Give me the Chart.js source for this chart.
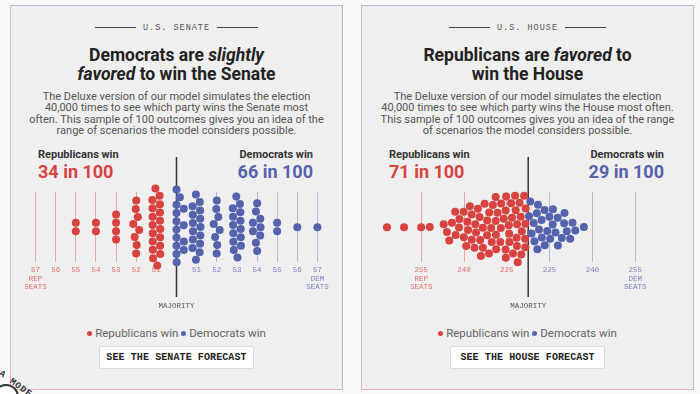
<!DOCTYPE html>
<html>
<head>
<meta charset="utf-8">
<script src="https://cdn.jsdelivr.net/npm/chart.js@4.4.1/dist/chart.umd.min.js"></script>
<style>
  body { margin: 0; width: 700px; height: 394px; background: #f9f9f9; position: relative; overflow: hidden; font-family: Roboto, sans-serif; }
  .panel { position: absolute; top: 5px; width: 331px; height: 383px; background: #efefef;
    border: 1px solid #b9b5d6; border-left-color: #e8b4b8; border-bottom-color: #e8b4b8; }
  .kicker { position: absolute; top: 17px; left: 0; right: 0; text-align: center; font: 8.5px "Liberation Mono", monospace; letter-spacing: 1px; color: #555; }
  .kicker span { display: inline-block; width: 41px; height: 1px; background: #444; vertical-align: middle; margin: 0 7px; }
  .title { position: absolute; top: 40px; left: 0; right: 0; text-align: center; font-weight: 700; font-size: 17.5px; line-height: 19px; color: #222; }
  .desc { position: absolute; top: 85px; left: 0; right: 0; text-align: center; font-size: 11px; line-height: 11.3px; color: #555; }
  .side { position: absolute; top: 143px; font-weight: 700; }
  .side .who { font-size: 11px; color: #333; line-height: 12px; }
  .side .num { font-size: 18px; line-height: 22px; }
  .left { left: 27px; text-align: left; }
  .right { right: 29px; text-align: right; }
  .legend { position: absolute; top: 320px; left: 0; right: 0; text-align: center; font-size: 11.5px; color: #666; }
  .legend i { display: inline-block; width: 5px; height: 5px; border-radius: 50%; margin: 0 3px 1px 0; vertical-align: middle; }
  .btn { position: absolute; top: 340px; left: 88px; width: 153px; height: 21px; background: #fff; border: 1px solid #ddd;
    text-align: center; font: bold 10px/21px "Liberation Mono", monospace; letter-spacing: 0.1px; color: #222; }
  canvas { position: absolute; top: 150px; }
  .logo { position: absolute; left: -7px; top: 384px; width: 22px; height: 22px; border-radius: 50%; border: 2px solid #333; background: #fff; }
  .logotext { position: absolute; left: 0px; top: 368px; font: bold 9px "Liberation Mono", monospace; letter-spacing: 1px; color: #333; transform: rotate(36deg); transform-origin: left center; }
</style>
</head>
<body>
<div class="panel" style="left:10px">
  <div class="kicker"><span></span>U.S. SENATE<span></span></div>
  <div class="title">Democrats are <i>slightly</i><br><i>favored</i> to win the Senate</div>
  <div class="desc">The Deluxe version of our model simulates the election<br>40,000 times to see which party wins the Senate most<br>often. This sample of 100 outcomes gives you an idea of the<br>range of scenarios the model considers possible.</div>
  <div class="side left"><div class="who">Republicans win</div><div class="num" style="color:#d8433f">34 in 100</div></div>
  <div class="side right"><div class="who">Democrats win</div><div class="num" style="color:#5563ad">66 in 100</div></div>
  <div class="legend"><i style="background:#d8433f"></i>Republicans win <i style="background:#5563ad"></i>Democrats win</div>
  <div class="btn">SEE THE SENATE FORECAST</div>
</div>
<div class="panel" style="left:361px">
  <div class="kicker"><span></span>U.S. HOUSE<span></span></div>
  <div class="title">Republicans are <i>favored</i> to<br>win the House</div>
  <div class="desc">The Deluxe version of our model simulates the election<br>40,000 times to see which party wins the House most often.<br>This sample of 100 outcomes gives you an idea of the range<br>of scenarios the model considers possible.</div>
  <div class="side left"><div class="who">Republicans win</div><div class="num" style="color:#d8433f">71 in 100</div></div>
  <div class="side right"><div class="who">Democrats win</div><div class="num" style="color:#5563ad">29 in 100</div></div>
  <div class="legend"><i style="background:#d8433f"></i>Republicans win <i style="background:#5563ad"></i>Democrats win</div>
  <div class="btn">SEE THE HOUSE FORECAST</div>
</div>
<div class="logo"></div>
<div class="logotext">A MODE</div>

<canvas id="senate" width="325" height="165" style="left:14px"></canvas>
<canvas id="house" width="325" height="165" style="left:365px"></canvas>

<script>
// Senate: seats won by the winning party in each of the 100 sampled outcomes
const senateRepSeats = [55, 55, 54, 54, 53, 53, 53, 53,
  52, 52, 52, 52, 52, 52, 52, 52,
  51, 51, 51, 51, 51, 51, 51, 51, 51, 51, 51, 51, 51, 51, 51, 51, 51, 51];
const senateDemSeats = [50, 50, 50, 50, 50, 50, 50, 50, 50, 50, 50, 50, 50, 50, 50, 50,
  51, 51, 51, 51, 51, 51, 51, 51, 51, 51, 51, 51, 51, 51, 51,
  52, 52, 52, 52, 52, 52, 52, 52,
  53, 53, 53, 53, 53, 53, 53, 53, 53, 53, 53, 53, 53, 53,
  54, 54, 54, 54, 54, 54, 54, 54, 54,
  55, 55, 56, 57];
// axis positions are in Democratic seats (Rep seats = 100 - x)
const senateTicks = [43, 44, 45, 46, 47, 48, 49, 51, 52, 53, 54, 55, 56, 57];
const senateTickLabels = [['57', 'REP', 'SEATS'], '56', '55', '54', '53', '52', '51',
  '51', '52', '53', '54', '55', '56', ['57', 'DEM', 'SEATS']];

// House
const houseRepSeats = [267, 261, 255, 252,
  247, 246, 245, 244, 243, 243, 242, 241,
  240, 240, 239, 239, 238, 238, 237, 237, 236, 236, 236, 235, 235, 234, 234, 234,
  233, 233, 232, 232, 231, 231, 231, 230, 230, 229, 229, 229, 228, 228, 228, 227, 227, 226, 226,
  225, 225, 225, 224, 224, 224, 223, 223, 223, 222, 222, 222, 222, 221, 221, 221, 220, 220, 220, 219, 219, 219, 218, 218];
const houseDemSeats = [218, 218, 219, 219, 220, 220, 221, 221, 221, 222, 222, 223, 223, 224,
  225, 225, 226, 226, 227, 228, 228, 229, 230, 230, 231,
  232, 233, 234, 237];
// axis positions are in Democratic seats (Rep seats = 435 - x)
const houseTicks = [180, 195, 210, 225, 240, 255];
const houseTickLabels = [['255', 'REP', 'SEATS'], '240', '225', '225', '240', ['255', 'DEM', 'SEATS']];

const RED = '#d8433f';
const BLUE = '#5563ad';

const majorityLine = {
  id: 'majorityLine',
  beforeDatasetsDraw(chart, args, opts) {
    const x = chart.scales.x.getPixelForValue(opts.value);
    const ctx = chart.ctx;
    ctx.save();
    ctx.strokeStyle = '#333';
    ctx.lineWidth = 1.5;
    ctx.beginPath();
    ctx.moveTo(x, 7);
    ctx.lineTo(x, 147);
    ctx.stroke();
    ctx.font = '7.5px "Liberation Mono", monospace';
    ctx.fillStyle = '#555';
    ctx.textAlign = 'center';
    ctx.textBaseline = 'middle';
    ctx.fillText('MAJORITY', x, 156);
    ctx.restore();
  }
};

// simple force layout so dots with close values don't overlap
function swarm(nodes, r, lineX, kx, ky) {
  const d = 2 * r;
  const seen = {};
  nodes.forEach(n => {
    const k = seen[n.tx] = (seen[n.tx] || 0) + 1;
    n.x = n.tx + ((k % 3) - 1) * 0.7;
    n.y = (k % 2 ? 1 : -1) * Math.floor(k / 2) * d;
  });
  for (let it = 0; it < 700; it++) {
    nodes.forEach(n => {
      n.x += (n.tx - n.x) * kx;
      n.y -= n.y * ky;
    });
    for (let p = 0; p < 3; p++) {
      for (let i = 0; i < nodes.length; i++) {
        for (let j = i + 1; j < nodes.length; j++) {
          const a = nodes[i], b = nodes[j];
          let dx = b.x - a.x, dy = b.y - a.y;
          let dist = Math.hypot(dx, dy);
          if (dist >= d) continue;
          if (dist < 1e-6) { dx = 0.3; dy = 1; dist = Math.hypot(dx, dy); }
          const push = (d - dist) / 2 / dist;
          a.x -= dx * push; a.y -= dy * push;
          b.x += dx * push; b.y += dy * push;
        }
      }
      nodes.forEach(n => {
        if (n.side < 0 && n.x > lineX) n.x = lineX;
        if (n.side > 0 && n.x < lineX) n.x = lineX;
      });
    }
  }
}

function makeChart(id, repX, demX, min, max, ticks, labels, majority, kx, ky) {
  const chart = new Chart(document.getElementById(id), {
    type: 'scatter',
    data: {
      datasets: [
        { data: repX.map(x => ({ x: x, y: 0 })), backgroundColor: RED, pointRadius: 4, borderWidth: 0, clip: false },
        { data: demX.map(x => ({ x: x, y: 0 })), backgroundColor: BLUE, pointRadius: 4, borderWidth: 0, clip: false }
      ]
    },
    options: {
      responsive: false,
      animation: false,
      events: [],
      layout: { padding: { top: 42, bottom: 20, left: 0, right: 0 } },
      plugins: { legend: { display: false }, tooltip: { enabled: false }, majorityLine: { value: majority } },
      scales: {
        x: {
          type: 'linear', min: min, max: max,
          afterBuildTicks: axis => { axis.ticks = ticks.map(v => ({ value: v })); },
          ticks: {
            autoSkip: false, maxRotation: 0, padding: 4,
            font: { family: '"Liberation Mono", monospace', size: 7.5, lineHeight: 1.1 },
            color: ctx => ctx.tick.value < majority ? '#e0706b' : '#7c84c0',
            callback: (v, i) => labels[i]
          },
          grid: {
            color: ctx => ctx.tick && ctx.tick.value < majority ? '#e8a8a6' : '#b5b9d8',
            lineWidth: 1, drawTicks: false
          },
          border: { display: false }
        },
        y: { display: false, min: -35, max: 35 }
      }
    },
    plugins: [majorityLine]
  });

  const xs = chart.scales.x, ys = chart.scales.y;
  const lineX = xs.getPixelForValue(majority);
  const cy = ys.getPixelForValue(0);
  const nodes = [];
  repX.forEach((v, i) => nodes.push({ tx: xs.getPixelForValue(v), side: -1, ds: 0, i: i }));
  demX.forEach((v, i) => nodes.push({ tx: xs.getPixelForValue(v), side: 1, ds: 1, i: i }));
  swarm(nodes, 4.2, lineX, kx, ky);
  nodes.forEach(n => {
    chart.data.datasets[n.ds].data[n.i] = { x: xs.getValueForPixel(n.x), y: ys.getValueForPixel(cy + n.y) };
  });
  chart.update('none');
  return chart;
}

makeChart('senate', senateRepSeats.map(s => 100 - s), senateDemSeats,
  42.128, 57.874, senateTicks, senateTickLabels, 50, 0.12, 0.005);
makeChart('house', houseRepSeats.map(s => 435 - s), houseDemSeats,
  161.7, 272.8, houseTicks, houseTickLabels, 217.5, 0.1, 0.003);
</script>
</body>
</html>
